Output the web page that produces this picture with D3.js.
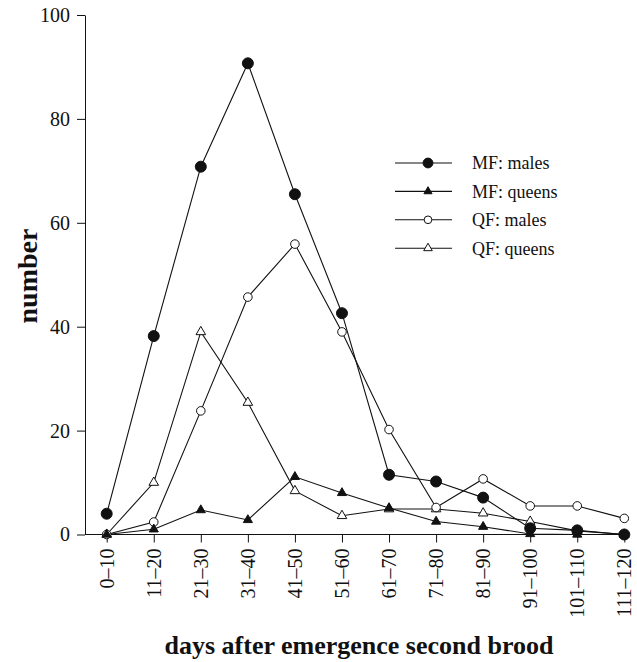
<!DOCTYPE html>
<html>
<head>
<meta charset="utf-8">
<script src="https://cdn.jsdelivr.net/npm/d3@7"></script>
<style>
  body { margin: 0; background: #fff; }
  text { font-family: "Liberation Serif", "DejaVu Serif", serif; fill: #111; }
</style>
</head>
<body>
<div id="chart-container"></div>
<script>
const categories = ["0–10", "11–20", "21–30", "31–40", "41–50", "51–60", "61–70", "71–80", "81–90", "91–100", "101–110", "111–120"];
const mfMales = [4, 38.2, 70.8, 90.7, 65.5, 42.6, 11.5, 10.2, 7.1, 1.2, 0.8, 0];
const mfQueens = [0, 1, 4.7, 2.8, 11.1, 8.0, 5.1, 2.5, 1.5, 0.1, 0, 0];
const qfMales = [0, 2.4, 23.8, 45.7, 55.9, 39.0, 20.2, 5.2, 10.7, 5.5, 5.5, 3.1];
const qfQueens = [0, 10, 39.0, 25.4, 8.4, 3.6, 4.9, 4.9, 4.1, 2.5, 0.7, 0];
const yTicks = [0, 20, 40, 60, 80, 100];

const seriesNames = ["MF: males", "MF: queens", "QF: males", "QF: queens"];

const width = 637;
const height = 662;
const margin = { top: 15, right: 8, bottom: 127.5, left: 85 };

const series = [
  { name: seriesNames[0], values: mfMales, shape: d3.symbolCircle, size: 95, filled: true },
  { name: seriesNames[1], values: mfQueens, shape: d3.symbolTriangle, size: 36, filled: true },
  { name: seriesNames[2], values: qfMales, shape: d3.symbolCircle, size: 58, filled: false },
  { name: seriesNames[3], values: qfQueens, shape: d3.symbolTriangle, size: 40, filled: false },
];

const x = d3.scalePoint()
  .domain(categories)
  .range([margin.left + 21.7, width - margin.right - 4.7]);

const y = d3.scaleLinear()
  .domain([0, 100])
  .range([height - margin.bottom, margin.top]);

const svg = d3.select("#chart-container")
  .append("svg")
  .attr("width", width)
  .attr("height", height);

// y axis
const yAxis = svg.append("g")
  .attr("transform", `translate(${margin.left},0)`)
  .call(d3.axisLeft(y).tickValues(yTicks).tickSize(8).tickPadding(7).tickSizeOuter(0));
yAxis.select(".domain").attr("stroke", "#111");
yAxis.selectAll(".tick line").attr("stroke", "#111");
yAxis.selectAll("text")
  .style("font-size", "20px")
  .attr("fill", "#111");

// x axis
const xAxis = svg.append("g")
  .attr("transform", `translate(0,${y(0)})`)
  .call(d3.axisBottom(x).tickSize(8).tickSizeOuter(0));
xAxis.select(".domain")
  .attr("d", `M${margin.left},0H${width - margin.right}`)
  .attr("stroke", "#111");
xAxis.selectAll(".tick line").attr("stroke", "#111");
xAxis.selectAll("text")
  .style("font-size", "20px")
  .attr("fill", "#111")
  .attr("text-anchor", "end")
  .attr("x", -14)
  .attr("y", 0)
  .attr("dy", "0.33em")
  .attr("transform", "rotate(-90)");

// axis titles
svg.append("text")
  .attr("x", 359)
  .attr("y", 654)
  .attr("text-anchor", "middle")
  .style("font-size", "26px")
  .style("font-weight", "bold")
  .text("days after emergence second brood");

svg.append("text")
  .attr("transform", "translate(37,276) rotate(-90)")
  .attr("text-anchor", "middle")
  .style("font-size", "28px")
  .style("font-weight", "bold")
  .text("number");

const line = d3.line()
  .x((d, i) => x(categories[i]))
  .y((d) => y(d));

// lines first so the open markers sit on top
svg.selectAll(".series-line")
  .data(series)
  .enter()
  .append("path")
  .attr("class", "series-line")
  .attr("d", (s) => line(s.values))
  .attr("fill", "none")
  .attr("stroke", "#111")
  .attr("stroke-width", 1.1);

// markers: QF first, MF males last (on top)
series.slice().reverse().forEach((s) => {
  svg.append("g")
    .selectAll("path")
    .data(s.values)
    .enter()
    .append("path")
    .attr("d", d3.symbol().type(s.shape).size(s.size))
    .attr("transform", (d, i) => `translate(${x(categories[i])},${y(d)})`)
    .attr("fill", s.filled ? "#111" : "#fff")
    .attr("stroke", "#111")
    .attr("stroke-width", 1);
});

// legend
const legend = svg.append("g")
  .attr("transform", "translate(395,163)");

const row = legend.selectAll(".legend-row")
  .data(series)
  .enter()
  .append("g")
  .attr("class", "legend-row")
  .attr("transform", (d, i) => `translate(0,${i * 28.4})`);

row.append("line")
  .attr("x1", 0)
  .attr("x2", 57)
  .attr("stroke", "#111")
  .attr("stroke-width", 1.1);

row.append("path")
  .attr("d", (s) => d3.symbol().type(s.shape).size(s.size * 0.8)())
  .attr("transform", "translate(33,0)")
  .attr("fill", (s) => (s.filled ? "#111" : "#fff"))
  .attr("stroke", "#111");

row.append("text")
  .attr("x", 77)
  .attr("dy", "0.35em")
  .style("font-size", "18px")
  .text((s) => s.name);
</script>
</body>
</html>
